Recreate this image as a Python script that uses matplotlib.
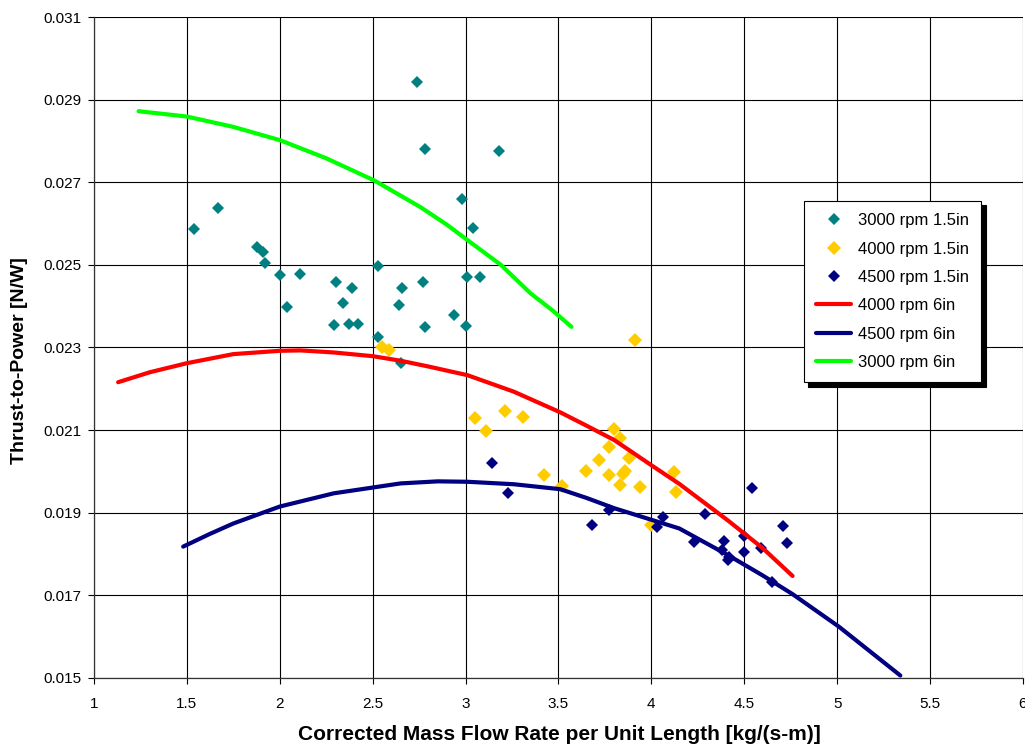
import numpy as np
import matplotlib
matplotlib.use('Agg')
import matplotlib.pyplot as plt

plt.rcParams['font.family'] = ['Liberation Sans', 'DejaVu Sans']

# scatter data (1.5in)
teal_x = [1.54, 1.67, 1.88, 1.91, 1.92, 2.00, 2.04, 2.11, 2.29, 2.30, 2.34, 2.37, 2.39, 2.42, 2.53,
          2.53, 2.64, 2.66, 2.65, 2.74, 2.78, 2.77, 2.78, 2.94, 2.98, 3.00, 3.01, 3.04, 3.08, 3.18]
teal_y = [0.02587, 0.02638, 0.02543, 0.02532, 0.02505, 0.02475, 0.02398, 0.02478, 0.02355, 0.02458,
          0.02408, 0.02357, 0.02445, 0.02356, 0.02497, 0.02325, 0.02402, 0.02443, 0.02262, 0.02943,
          0.02780, 0.02458, 0.02349, 0.02379, 0.02659, 0.02352, 0.02471, 0.02589, 0.02471, 0.02776]

yellow_x = [2.55, 2.59, 3.05, 3.11, 3.21, 3.31, 3.42, 3.52, 3.65, 3.72, 3.77, 3.80, 3.83, 3.88,
            3.77, 3.85, 3.83, 3.94, 3.91, 4.12, 4.13, 4.00, 3.86]
yellow_y = [0.02302, 0.02294, 0.02129, 0.02097, 0.02146, 0.02131, 0.01991, 0.01964, 0.02001, 0.02028,
            0.02060, 0.02103, 0.02082, 0.02032, 0.01991, 0.01994, 0.01967, 0.01963, 0.02318, 0.01999,
            0.01951, 0.01870, 0.02002]

navy_x = [3.14, 3.23, 3.68, 3.77, 4.06, 4.03, 4.23, 4.29, 4.39, 4.38, 4.42, 4.41, 4.50, 4.50,
          4.54, 4.59, 4.65, 4.71, 4.73]
navy_y = [0.02021, 0.01947, 0.01870, 0.01907, 0.01889, 0.01866, 0.01830, 0.01898, 0.01832, 0.01810,
          0.01792, 0.01786, 0.01804, 0.01844, 0.01960, 0.01815, 0.01733, 0.01868, 0.01827]

# trend curves (6in)
red_x = [1.13, 1.30, 1.50, 1.75, 2.00, 2.11, 2.29, 2.50, 2.65, 2.80, 3.01, 3.26, 3.51, 3.65, 3.80,
         4.01, 4.15, 4.41, 4.60, 4.76]
red_y = [0.02216, 0.02240, 0.02262, 0.02284, 0.02292, 0.02293, 0.02288, 0.02279, 0.02268, 0.02254,
         0.02233, 0.02193, 0.02143, 0.02111, 0.02076, 0.02012, 0.01970, 0.01882, 0.01814, 0.01747]

blue_x = [1.48, 1.62, 1.75, 2.00, 2.29, 2.65, 2.85, 3.01, 3.26, 3.51, 3.65, 3.80, 4.15, 4.41, 4.60,
          4.76, 5.01, 5.34]
blue_y = [0.01818, 0.01848, 0.01874, 0.01915, 0.01947, 0.01971, 0.01976, 0.01975, 0.01969, 0.01957,
          0.01936, 0.01911, 0.01862, 0.01798, 0.01748, 0.01703, 0.01624, 0.01506]

green_x = [1.24, 1.50, 1.75, 2.00, 2.25, 2.51, 2.76, 2.90, 3.01, 3.19, 3.35, 3.47, 3.57]
green_y = [0.02872, 0.02859, 0.02834, 0.02802, 0.02758, 0.02704, 0.02639, 0.02597, 0.02560, 0.02500,
           0.02431, 0.02389, 0.02350]

fig = plt.figure(figsize=(10.25, 7.49), dpi=100)
ax = fig.add_axes([0.0917, 0.0948, 0.9063, 0.8825])

ax.plot(teal_x, teal_y, 'D', color='#008080', markersize=6.3, markeredgewidth=0, label='3000 rpm 1.5in', zorder=3)
ax.plot(yellow_x, yellow_y, 'D', color='#FFCC00', markersize=7.0, markeredgewidth=0, label='4000 rpm 1.5in', zorder=3)
ax.plot(navy_x, navy_y, 'D', color='#000080', markersize=6.3, markeredgewidth=0, label='4500 rpm 1.5in', zorder=3)
ax.plot(red_x, red_y, '-', color='#FF0000', linewidth=3, solid_capstyle='round', solid_joinstyle='round',
        label='4000 rpm 6in', zorder=4)
ax.plot(blue_x, blue_y, '-', color='#000080', linewidth=3, solid_capstyle='round', solid_joinstyle='round',
        label='4500 rpm 6in', zorder=4)
ax.plot(green_x, green_y, '-', color='#00FF00', linewidth=3, solid_capstyle='round', solid_joinstyle='round',
        label='3000 rpm 6in', zorder=4)

ax.set_xlim(1, 6)
ax.set_ylim(0.015, 0.031)
ax.set_xticks(np.arange(1, 6.01, 0.5))
ax.set_xticklabels(['1', '1.5', '2', '2.5', '3', '3.5', '4', '4.5', '5', '5.5', '6'])
ax.set_yticks(np.arange(0.015, 0.0311, 0.002))
ax.set_yticklabels(['%.3f' % v for v in np.arange(0.015, 0.0311, 0.002)])
ax.tick_params(labelsize=11, direction='out', length=4, width=0.8, color='black')
ax.tick_params(axis='x', pad=10)
ax.tick_params(axis='y', pad=5)
ax.grid(True, color='black', linewidth=0.8)
ax.set_axisbelow(True)
for s in ['top', 'right']:
    ax.spines[s].set_visible(False)
for s in ['left', 'bottom']:
    ax.spines[s].set_linewidth(0.9)
    ax.spines[s].set_color('#333333')

ax.set_xlabel('Corrected Mass Flow Rate per Unit Length [kg/(s-m)]', fontsize=15, fontweight='bold')
ax.set_ylabel('Thrust-to-Power [N/W]', fontsize=14, fontweight='bold')
ax.xaxis.set_label_coords(0.501, -0.071)
ax.yaxis.set_label_coords(-0.071, 0.48)

leg = ax.legend(loc='upper left', bbox_to_anchor=(0.764, 0.722), borderaxespad=0,
                fontsize=12, frameon=True, fancybox=False, edgecolor='black', framealpha=1,
                shadow={'color': 'black', 'alpha': 1, 'ox': 3, 'oy': -3},
                handlelength=2.1, handletextpad=0.4, labelspacing=0.8, borderpad=0.75)
leg.get_frame().set_linewidth(0.8)

fig.savefig('out.png', dpi=100)
